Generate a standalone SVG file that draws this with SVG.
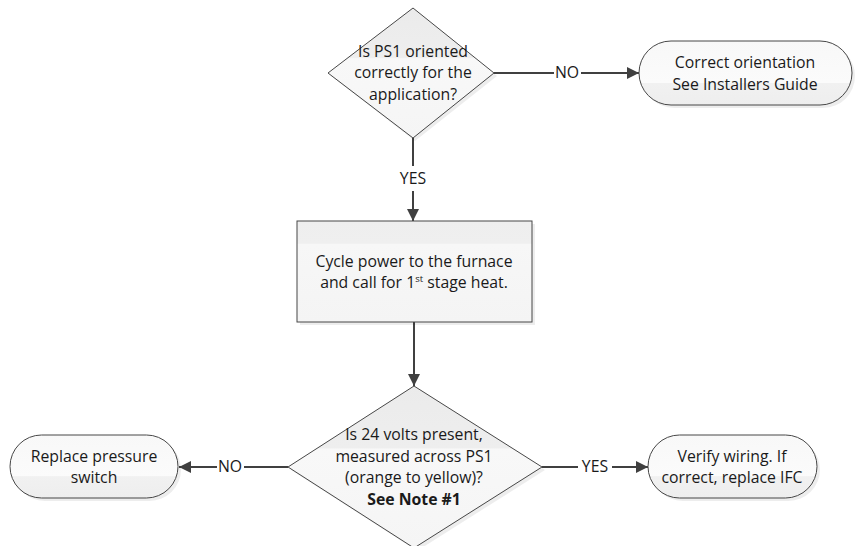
<svg xmlns="http://www.w3.org/2000/svg" width="855" height="546" viewBox="0 0 855 546">
<style>
.shape{stroke:#474747;stroke-width:1;}
.shadow{fill:#000;opacity:0.07;}
.t{font-family:"Open Sans","Liberation Sans",Arial,sans-serif;font-size:15.8px;fill:#1a1a1a;text-anchor:middle;}
.b{font-weight:bold;}
.c{stroke:#404040;stroke-width:2;fill:none;}
.lbl{font-family:"Open Sans","Liberation Sans",Arial,sans-serif;font-size:15.8px;fill:#1a1a1a;text-anchor:middle;}
</style>
<defs>
<linearGradient id="gBox" x1="0" y1="0" x2="0" y2="1">
<stop offset="0" stop-color="#eeeeee"/><stop offset="0.22" stop-color="#efefef"/><stop offset="0.23" stop-color="#f7f7f7"/><stop offset="1" stop-color="#f4f4f4"/>
</linearGradient>
<linearGradient id="gDia" x1="0" y1="0" x2="0" y2="1">
<stop offset="0" stop-color="#ebebeb"/><stop offset="0.38" stop-color="#eeeeee"/><stop offset="0.39" stop-color="#f8f8f8"/><stop offset="1" stop-color="#f5f5f5"/>
</linearGradient>
<linearGradient id="gTerm" x1="0" y1="0" x2="0" y2="1">
<stop offset="0" stop-color="#f8f8f8"/><stop offset="0.65" stop-color="#fbfbfb"/><stop offset="0.66" stop-color="#f1f1f1"/><stop offset="1" stop-color="#eeeeee"/>
</linearGradient>
<marker id="arr" viewBox="0 0 12 12" refX="12" refY="6" markerWidth="12" markerHeight="12" markerUnits="userSpaceOnUse" orient="auto">
<path d="M0,0 L12,6 L0,12 Z" fill="#404040"/>
</marker>
</defs>

<g id="connectors">
<line class="c" x1="494" y1="73" x2="554" y2="73"/>
<line class="c" x1="581" y1="73" x2="639" y2="73" marker-end="url(#arr)"/>
<text class="lbl" x="567" y="78">NO</text>
<line class="c" x1="413" y1="138" x2="413" y2="166"/>
<line class="c" x1="413" y1="191" x2="413" y2="221" marker-end="url(#arr)"/>
<text class="lbl" x="413" y="184">YES</text>
<line class="c" x1="414" y1="322" x2="414" y2="386" marker-end="url(#arr)"/>
<line class="c" x1="288" y1="467" x2="244" y2="467"/>
<line class="c" x1="217" y1="467" x2="179" y2="467" marker-end="url(#arr)"/>
<text class="lbl" x="230" y="472">NO</text>
<line class="c" x1="542" y1="467" x2="578" y2="467"/>
<line class="c" x1="612" y1="467" x2="648" y2="467" marker-end="url(#arr)"/>
<text class="lbl" x="595" y="472">YES</text>
</g>

<g id="decision1">
<polygon class="shadow" points="415,11 497,76 415,141 331,76"/>
<polygon class="shape" fill="url(#gDia)" points="413,8 494,73 413,138 328,73"/>
<text class="t" x="413" y="57">Is PS1 oriented</text>
<text class="t" x="413" y="78">correctly for the</text>
<text class="t" x="413" y="100">application?</text>
</g>

<g id="term-correct">
<rect class="shadow" x="642" y="44" width="213" height="64" rx="32"/>
<rect class="shape" fill="url(#gTerm)" x="639" y="41" width="213" height="64" rx="32"/>
<text class="t" x="745" y="68">Correct orientation</text>
<text class="t" x="745" y="90">See Installers Guide</text>
</g>

<g id="process-cycle">
<rect class="shadow" x="300" y="224" width="235" height="101"/>
<rect class="shape" fill="url(#gBox)" x="297" y="221" width="235" height="101"/>
<text class="t" x="414" y="267">Cycle power to the furnace</text>
<text class="t" x="414" y="288">and call for 1<tspan font-size="9.5" dy="-6">st</tspan><tspan dy="6"> stage heat.</tspan></text>
</g>

<g id="decision2">
<polygon class="shadow" points="417,389 545,470 417,551 291,470"/>
<polygon class="shape" fill="url(#gDia)" points="414,386 542,467 414,548 288,467"/>
<text class="t" x="414" y="440">Is 24 volts present,</text>
<text class="t" x="414" y="462">measured across PS1</text>
<text class="t" x="414" y="483">(orange to yellow)?</text>
<text class="t b" x="414" y="505">See Note #1</text>
</g>

<g id="term-replace">
<rect class="shadow" x="13" y="438" width="168" height="63" rx="31.5"/>
<rect class="shape" fill="url(#gTerm)" x="10" y="435" width="168" height="63" rx="31.5"/>
<text class="t" x="94" y="462">Replace pressure</text>
<text class="t" x="94" y="483">switch</text>
</g>

<g id="term-verify">
<rect class="shadow" x="651" y="438" width="169" height="63" rx="31.5"/>
<rect class="shape" fill="url(#gTerm)" x="648" y="435" width="169" height="63" rx="31.5"/>
<text class="t" x="732" y="462">Verify wiring. If</text>
<text class="t" x="732" y="483">correct, replace IFC</text>
</g>
</svg>
